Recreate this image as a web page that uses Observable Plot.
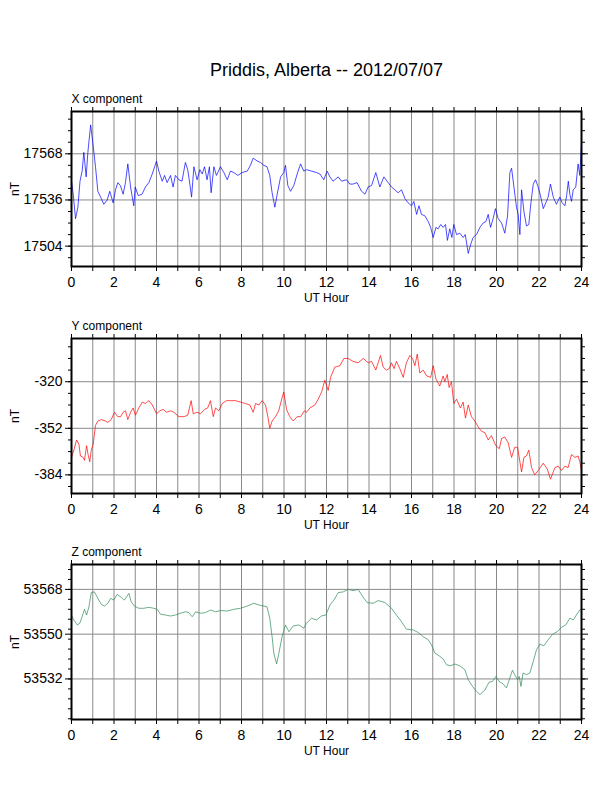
<!DOCTYPE html>
<html>
<head>
<meta charset="utf-8">
<script src="https://cdn.jsdelivr.net/npm/d3@7"></script>
<script src="https://cdn.jsdelivr.net/npm/@observablehq/plot@0.6"></script>
<style>
  html, body { margin: 0; padding: 0; background: #fff; }
  #chart { width: 612px; height: 792px; }
  #chart svg { display: block; }
</style>
</head>
<body>
<div id="chart"></div>
<script>
const chartTitle = "Priddis, Alberta -- 2012/07/07";
const panelTitles = ["X component", "Y component", "Z component"];
const xLabel = "UT Hour";
const yLabel = "nT";

// X component
const xHours = [0,0.08,0.19,0.3,0.4,0.5,0.58,0.69,0.77,0.9,1.0,1.13,1.24,1.37,1.52,1.68,1.8,1.96,2.07,2.18,2.3,2.43,2.54,2.65,2.78,2.93,3.0,3.14,3.32,3.48,3.64,3.8,4.0,4.11,4.27,4.38,4.5,4.66,4.78,4.89,5.05,5.2,5.36,5.47,5.57,5.65,5.76,5.91,6.04,6.15,6.26,6.38,6.49,6.57,6.7,6.82,7.01,7.17,7.33,7.48,7.64,7.83,8.03,8.27,8.42,8.55,8.74,8.89,9.05,9.2,9.33,9.44,9.57,9.68,9.84,9.99,10.07,10.18,10.31,10.46,10.62,10.78,10.93,
  11.06,11.29,11.53,11.69,11.87,12.03,12.16,12.31,12.55,12.71,12.94,13.1,13.25,13.44,13.65,13.81,13.96,14.12,14.32,14.51,14.7,14.9,15.06,15.22,15.37,15.53,15.69,15.84,16.0,16.11,16.24,16.35,16.47,16.63,16.79,16.9,17.02,17.15,17.25,17.38,17.49,17.6,17.69,17.8,17.9,17.99,18.12,18.27,18.43,18.53,18.67,18.78,18.9,19.06,19.22,19.37,19.5,19.61,19.72,19.84,19.95,20.08,20.24,20.39,20.52,20.63,20.71,20.82,20.94,21.02,21.1,21.18,21.29,21.41,21.52,21.62,21.73,21.84,21.96,22.07,22.2,22.32,22.43,22.54,22.67,22.82,22.98,23.09,23.22,23.3,23.38,23.45,23.53,23.61,23.73,23.84,23.92,24.0];
const xValues = [17549,17540,17523,17531,17549,17556,17569,17552,17569,17588,17576,17559,17542,17538,17533,17536,17542,17534,17543,17548,17546,17540,17548,17561,17545,17532,17545,17539,17540,17545,17548,17554,17563,17556,17549,17553,17548,17553,17545,17553,17550,17549,17562,17557,17547,17538,17559,17550,17557,17554,17559,17550,17559,17541,17559,17553,17559,17555,17550,17556,17555,17553,17555,17556,17560,17565,17563,17562,17560,17559,17553,17541,17531,17540,17552,17555,17560,17546,17542,17546,17554,17561,17556,
  17557,17556,17555,17554,17550,17556,17552,17549,17552,17549,17550,17547,17547,17548,17542,17540,17545,17546,17555,17545,17552,17548,17545,17543,17541,17543,17537,17534,17532,17535,17526,17532,17526,17525,17521,17517,17510,17517,17516,17519,17517,17519,17508,17516,17510,17519,17512,17513,17510,17512,17499,17505,17510,17512,17517,17520,17521,17526,17517,17523,17530,17523,17520,17513,17525,17555,17558,17545,17531,17526,17512,17543,17528,17518,17519,17534,17547,17550,17545,17539,17530,17534,17538,17547,17538,17533,17538,17534,17532,17539,17549,17540,17535,17543,17545,17561,17553,17576];

// Y component
const yHours = [0,0.11,0.24,0.35,0.42,0.55,0.61,0.71,0.78,0.86,0.93,1.02,1.13,1.24,1.4,1.6,1.71,1.87,2.02,2.18,2.31,2.43,2.54,2.65,2.78,2.9,3.01,3.17,3.33,3.48,3.64,3.8,4.0,4.16,4.31,4.47,4.66,4.82,5.05,5.29,5.47,5.63,5.73,5.91,6.07,6.26,6.41,6.54,6.67,6.78,6.93,7.09,7.29,7.48,7.72,7.95,8.19,8.39,8.55,8.66,8.82,8.97,9.13,9.24,9.33,9.44,9.6,9.75,9.91,9.99,10.12,10.27,10.43,10.62,10.78,10.96,
  11.06,11.22,11.45,11.61,11.77,11.92,12.08,12.19,12.39,12.63,12.82,13.02,13.25,13.49,13.73,13.96,14.12,14.32,14.43,14.54,14.67,14.82,14.95,15.06,15.18,15.29,15.45,15.61,15.76,15.92,16.05,16.16,16.27,16.39,16.55,16.71,16.9,17.02,17.15,17.33,17.49,17.57,17.68,17.77,17.88,17.99,18.12,18.3,18.43,18.54,18.67,18.82,18.98,19.14,19.29,19.45,19.61,19.76,19.97,20.13,20.24,20.39,20.55,20.71,20.86,20.99,21.1,21.18,21.29,21.41,21.52,21.65,21.8,21.96,22.2,22.39,22.54,22.75,22.9,23.06,23.22,23.37,23.53,23.69,23.84,23.92,24.0];
const yValues = [-372,-367,-360,-363,-371,-372,-374,-364,-370,-375,-367,-363,-350,-347,-346,-347,-348,-346,-341,-344,-344,-341,-340,-346,-341,-338,-343,-338,-334,-335,-333,-336,-342,-340,-339,-341,-340,-341,-344,-344,-343,-333,-342,-341,-342,-339,-338,-333,-344,-338,-340,-335,-333,-333,-333,-334,-335,-336,-341,-335,-336,-333,-336,-344,-352,-347,-344,-340,-331,-327,-339,-344,-347,-344,-344,-340,
  -341,-338,-336,-332,-327,-319,-326,-317,-310,-309,-304,-304,-306,-307,-304,-307,-306,-312,-307,-302,-310,-312,-311,-307,-311,-306,-311,-317,-307,-302,-304,-309,-301,-314,-312,-316,-317,-309,-318,-323,-316,-320,-315,-324,-320,-335,-332,-338,-334,-345,-336,-344,-347,-351,-354,-355,-360,-357,-364,-366,-359,-358,-362,-372,-365,-365,-375,-382,-372,-371,-367,-379,-384,-381,-376,-380,-387,-379,-378,-381,-378,-379,-370,-372,-371,-375,-381];

// Z component
const zHours = [0,0.11,0.27,0.39,0.5,0.61,0.71,0.82,0.93,1.08,1.24,1.4,1.55,1.71,1.84,1.99,2.15,2.34,2.49,2.7,2.81,2.96,3.17,3.4,3.64,3.87,4.03,4.19,4.42,4.66,4.89,5.13,5.36,5.52,5.68,5.84,6.07,6.31,6.54,6.78,7.01,7.33,7.64,7.95,8.27,8.58,8.82,9.05,9.2,9.33,9.44,9.52,9.65,9.76,9.91,10.07,10.23,10.43,10.7,10.93,
  11.06,11.29,11.53,11.76,11.97,12.16,12.35,12.55,12.79,13.02,13.25,13.49,13.69,13.91,14.2,14.43,14.75,15.06,15.29,15.53,15.76,16.08,16.31,16.55,16.79,16.94,17.1,17.3,17.49,17.65,17.84,18.04,18.27,18.51,18.67,18.87,19.06,19.22,19.45,19.65,19.81,19.97,20.13,20.31,20.47,20.6,20.75,20.86,20.99,21.07,21.15,21.25,21.41,21.57,21.73,21.88,22.04,22.23,22.43,22.64,22.86,23.06,23.26,23.45,23.61,23.76,23.92,24.0];
const zValues = [53557.7,53555.7,53553.7,53554.4,53557,53560,53557.7,53561,53566.7,53567,53564.4,53562,53561.3,53562.4,53564.4,53563.7,53566,53564.8,53563.7,53566.4,53563,53561.3,53560.4,53560.4,53560.8,53560.4,53560,53558,53557.7,53557.3,53557.7,53558.4,53559,53558.7,53557,53559,53558.4,53558.7,53559.7,53559,53559.5,53559.3,53560,53560.4,53561.3,53562.4,53561.7,53561.3,53561,53556.4,53549,53542.4,53538,53542.4,53549,53553.7,53551,53553.3,53553.7,53552.4,
  53554.4,53556.4,53555.7,53557.3,53557.7,53561.7,53563.7,53566.7,53567,53568,53567.5,53568,53565.3,53562.7,53562.4,53563.5,53562.7,53560.4,53557.7,53555,53552,53551.7,53550.7,53549,53547.7,53545.7,53542.4,53541.3,53540,53537.7,53537.3,53538,53537.3,53535.7,53531.7,53529,53527,53525.7,53527.5,53530.7,53531,53533,53531,53530,53528.4,53531.7,53535.5,53533.7,53531.7,53533,53529,53534.4,53533.7,53534.4,53539,53543.7,53546,53545.3,53547.7,53550,53551,53552.8,53553.7,53556.4,53555.7,53557.7,53559.7,53560.4];

const hourTicks = d3.range(0, 25, 1);
const panels = [
  {title: panelTitles[0], hours: xHours, values: xValues, color: "#0000ff",
   domain: [17489.9, 17597.3], majors: [17504, 17536, 17568], minorStep: 8,
   marginTop: 111, marginBottom: 45},
  {title: panelTitles[1], hours: yHours, values: yValues, color: "#ff0000",
   domain: [-396.8, -290.3], majors: [-384, -352, -320], minorStep: 8,
   marginTop: 27, marginBottom: 45},
  {title: panelTitles[2], hours: zHours, values: zValues, color: "#2e8b57",
   domain: [53515.7, 53578], majors: [53532, 53550, 53568], minorStep: 4,
   marginTop: 26, marginBottom: 45}
];

const font = "'Liberation Sans', Arial, Helvetica, sans-serif";
const frameH = 155;

panels.forEach((p, i) => {
  const data = p.hours.map((t, k) => ({t, v: p.values[k]}));
  const lo = Math.ceil(p.domain[0] / p.minorStep) * p.minorStep;
  const minors = d3.range(lo, p.domain[1], p.minorStep);
  const marks = [
    Plot.gridX(hourTicks, {stroke: "#8a8a8a", strokeOpacity: 1, strokeWidth: 1}),
    Plot.gridY(p.majors, {stroke: "#8a8a8a", strokeOpacity: 1, strokeWidth: 1}),
    Plot.line(data, {x: "t", y: "v", stroke: p.color, strokeWidth: 0.7}),
    Plot.frame({stroke: "#000", strokeWidth: 2}),
    Plot.axisX(hourTicks, {anchor: "bottom", tickSize: 5, tickPadding: 6, fontSize: 14,
      tickFormat: d => (d % 2 === 0 ? String(d) : ""), label: null}),
    Plot.axisX(hourTicks, {anchor: "top", tickSize: 5, tickFormat: () => "", label: null}),
    Plot.axisY(minors, {anchor: "left", tickSize: 3, tickFormat: () => "", label: null}),
    Plot.axisY(p.majors, {anchor: "left", tickSize: 6, tickPadding: 3, fontSize: 14,
      tickFormat: d => String(d), label: null}),
    Plot.axisY(minors, {anchor: "right", tickSize: 3, tickFormat: () => "", label: null}),
    Plot.axisY(p.majors, {anchor: "right", tickSize: 6, tickFormat: () => "", label: null}),
    Plot.text([p.title], {frameAnchor: "top-left", dy: -9, textAnchor: "start",
      lineAnchor: "bottom", fontSize: 12, fill: "#000"}),
    Plot.text([yLabel], {frameAnchor: "left", dx: -56, rotate: -90, textAnchor: "middle",
      lineAnchor: "middle", fontSize: 12, fill: "#000"}),
    Plot.text([xLabel], {frameAnchor: "bottom", dy: 35, textAnchor: "middle",
      lineAnchor: "bottom", fontSize: 12, fill: "#000"})
  ];
  if (i === 0) {
    marks.push(Plot.text([chartTitle], {frameAnchor: "top", dy: -36, textAnchor: "middle",
      lineAnchor: "bottom", fontSize: 18, fill: "#000"}));
  }
  const chart = Plot.plot({
    width: 612,
    height: p.marginTop + frameH + p.marginBottom,
    marginLeft: 71, marginRight: 31,
    marginTop: p.marginTop, marginBottom: p.marginBottom,
    x: {domain: [0, 24]},
    y: {domain: p.domain},
    style: {fontFamily: font, background: "transparent", overflow: "visible", color: "#000"},
    marks
  });
  document.getElementById("chart").appendChild(chart);
});
</script>
</body>
</html>
